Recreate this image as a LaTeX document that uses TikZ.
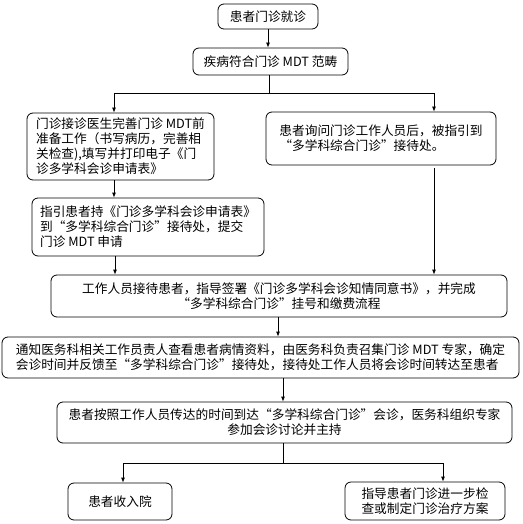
\documentclass[tikz,border=0pt]{standalone}
\usepackage{fontspec}
\setmainfont{Noto Sans CJK SC}
\usetikzlibrary{arrows.meta}
\begin{document}
\begin{tikzpicture}[x=1pt,y=-1pt,
  box/.style={draw, rounded corners=6pt, line width=0.8pt, inner sep=0pt, font=\fontsize{12.7}{15}\selectfont},
  arr/.style={-{Latex[length=5pt,width=4pt]}, line width=0.8pt},
  ln/.style={line width=0.8pt}]
\useasboundingbox (0,0) rectangle (522,524);
\node[box, minimum width=100pt, minimum height=25pt] (b1) at (268,16.5) {患者门诊就诊};
\node[box, minimum width=155pt, minimum height=27pt] (b2) at (270.5,61.5) {疾病符合门诊 MDT 范畴};
\node[box, minimum width=187pt, minimum height=67pt, align=left] (b3) at (120.5,146.5) {门诊接诊医生完善门诊 MDT前\\准备工作（书写病历，完善相\\关检查),填写并打印电子《门\\诊多学科会诊申请表》};
\node[box, minimum width=230pt, minimum height=53pt, align=left] (b4) at (381,138.5) {患者询问门诊工作人员后，被指引到\\“多学科综合门诊”接待处。};
\node[box, minimum width=232pt, minimum height=58pt, align=left] (b5) at (148,227) {指引患者持《门诊多学科会诊申请表》\\到“多学科综合门诊”接待处，提交\\门诊 MDT 申请};
\node[box, minimum width=456pt, minimum height=42pt, align=center] (b6) at (279,296) {工作人员接待患者，指导签署《门诊多学科会诊知情同意书》，并完成\\“多学科综合门诊”挂号和缴费流程};
\node[box, minimum width=517pt, minimum height=41pt, align=left] (b7) at (260.5,357.5) {通知医务科相关工作员责人查看患者病情资料，由医务科负责召集门诊 MDT 专家，确定\\会诊时间并反馈至“多学科综合门诊”接待处，接待处工作人员将会诊时间转达至患者};
\node[box, minimum width=455pt, minimum height=41pt, align=center] (b8) at (284.5,422.5) {患者按照工作人员传达的时间到达“多学科综合门诊”会诊，医务科组织专家\\参加会诊讨论并主持};
\node[box, minimum width=104pt, minimum height=37pt] (b9) at (120,501.5) {患者收入院};
\node[box, minimum width=160pt, minimum height=38pt, align=center] (b10) at (425,501) {指导患者门诊进一步检\\查或制定门诊治疗方案};
\draw[arr] (b1.south) -- (b1.south |- b2.north);
\coordinate (s1) at (269,93);
\coordinate (l1) at (114,93);
\coordinate (r1) at (434,93);
\draw[ln] (b2.south -| s1) -- (s1);
\draw[ln] (l1) -- (r1);
\draw[arr] (l1) -- (l1 |- b3.north);
\draw[arr] (r1) -- (r1 |- b4.north);
\draw[arr] (b3.south -| l1) -- (l1 |- b5.north);
\draw[arr] ([yshift=-3pt]b4.south -| r1) -- (r1 |- b6.north);
\coordinate (c5) at (115,0);
\draw[arr] (b5.south -| c5) -- (c5 |- b6.north);
\coordinate (c6) at (278,0);
\draw[arr] (b6.south -| c6) -- (c6 |- b7.north);
\coordinate (c7) at (283,0);
\draw[arr] (b7.south -| c7) -- (c7 |- b8.north);
\coordinate (s8) at (283,463);
\coordinate (l8) at (123,463);
\coordinate (r8) at (443,463);
\draw[ln] (b8.south -| s8) -- (s8);
\draw[ln] (l8) -- (r8);
\draw[arr] (l8) -- (l8 |- b9.north);
\draw[arr] (r8) -- (r8 |- b10.north);
\end{tikzpicture}
\end{document}
